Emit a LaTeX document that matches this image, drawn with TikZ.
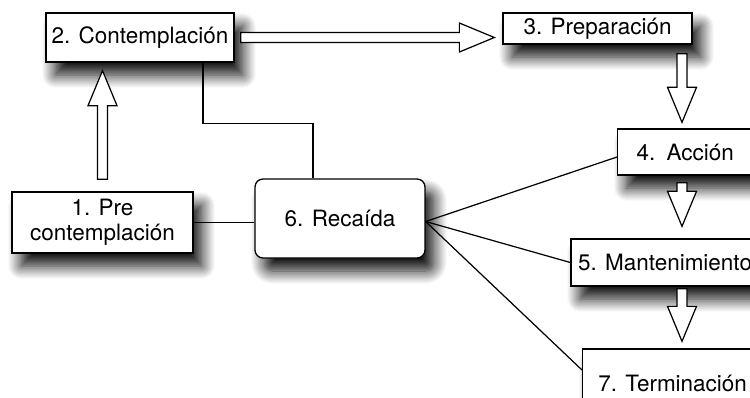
\documentclass[tikz,border=0pt]{standalone}
\usepackage{fontspec}
\setmainfont{TeX Gyre Heros}
\usetikzlibrary{calc,shadows.blur}

\begin{document}
\begin{tikzpicture}[
        x=0.02cm, y=-0.02cm,
        stage_box/.style={
            rectangle,
            draw=black,
            fill=white,
            line width=0.75pt,
            inner sep=0pt,
            align=center,
            font=\fontsize{12.8}{14.2}\selectfont,
            blur shadow={shadow xshift=0.18cm, shadow yshift=-0.26cm, shadow blur radius=0.26cm, shadow opacity=95, shadow blur steps=12}
        },
        relapse_box/.style={stage_box, rounded corners=0.16cm},
        link_line/.style={draw=black, line width=0.7pt},
        block_arrow/.style={
            draw=black,
            fill=white,
            line width=0.7pt,
            line join=miter,
            to path={
                ($(\tikztostart)!0.1cm!90:(\tikztotarget)$) --
                ($(\tikztotarget)!0.7cm!(\tikztostart)!0.1cm!-90:(\tikztostart)$) --
                ($(\tikztotarget)!0.7cm!(\tikztostart)!0.29cm!-90:(\tikztostart)$) --
                (\tikztotarget) --
                ($(\tikztotarget)!0.7cm!(\tikztostart)!0.29cm!90:(\tikztostart)$) --
                ($(\tikztotarget)!0.7cm!(\tikztostart)!0.1cm!90:(\tikztostart)$) --
                ($(\tikztostart)!0.1cm!-90:(\tikztotarget)$) -- cycle
            }
        }
    ]

    \useasboundingbox (0,0) rectangle (750,397);
    \clip (0,0) rectangle (750,397);

    % Stages
    \node[stage_box, minimum width=3.62cm, minimum height=1.22cm] (precontemp) at (102.5, 222.5) {1. Pre\\contemplación};
    \node[stage_box, minimum width=3.76cm, minimum height=0.98cm] (contemp) at (140, 37.5) {2. Contemplación};
    \node[stage_box, minimum width=3.78cm, minimum height=0.62cm] (prep) at (597.5, 28.5) {3. Preparación};
    \node[stage_box, anchor=west, text width=2.2cm, inner xsep=0.38cm, align=left, minimum height=0.92cm] (accion) at (617, 152) {4. Acción};
    \node[stage_box, minimum width=3.76cm, minimum height=0.94cm] (mant) at (665, 262.5) {5. Mantenimiento};
    \node[relapse_box, minimum width=3.4cm, minimum height=1.58cm] (recaida) at (340, 218.5) {6. Recaída};
    \node[stage_box, anchor=west, minimum width=3.6cm, minimum height=1.36cm] (term) at (582, 383) {7. Terminación};

    % Links to the relapse
    \draw[link_line] ($(contemp.south)+(63,0)$) -- ++(0,61) -| ($(recaida.north)+(-27,0)$);
    \draw[link_line] (precontemp.east) -- (precontemp.east -| recaida.west);
    \coordinate (fan) at ($(recaida.east)+(0,3)$);
    \draw[link_line] (fan) -- ($(accion.west)+(0,5)$);
    \draw[link_line] (fan) -- (mant.west);
    \draw[link_line] (fan) -- ($(term.west)+(0,-13)$);

    % Progress arrows
    \coordinate (spine) at (682, 0);
    \coordinate (up_start) at ($(precontemp.north)+(0,-12)$);
    \coordinate (up_end) at ($(precontemp.north |- contemp.south)+(0,8)$);
    \coordinate (right_start) at ($(contemp.east)+(6,0)$);
    \coordinate (right_end) at ($(contemp.east -| prep.west)+(-8,0)$);
    \coordinate (down1_start) at ($(prep.south -| spine)+(0,9)$);
    \coordinate (down1_end) at ($(accion.north -| spine)+(0,-6)$);
    \coordinate (down2_start) at ($(accion.south -| spine)+(0,7)$);
    \coordinate (down2_end) at ($(mant.north -| spine)+(0,-12)$);
    \coordinate (down3_start) at ($(mant.south -| spine)+(0,2)$);
    \coordinate (down3_end) at ($(term.north -| spine)+(0,-7)$);

    \draw[block_arrow] (up_start) to (up_end);
    \draw[block_arrow] (right_start) to (right_end);
    \draw[block_arrow] (down1_start) to (down1_end);
    \draw[block_arrow] (down2_start) to (down2_end);
    \draw[block_arrow] (down3_start) to (down3_end);

\end{tikzpicture}
\end{document}
